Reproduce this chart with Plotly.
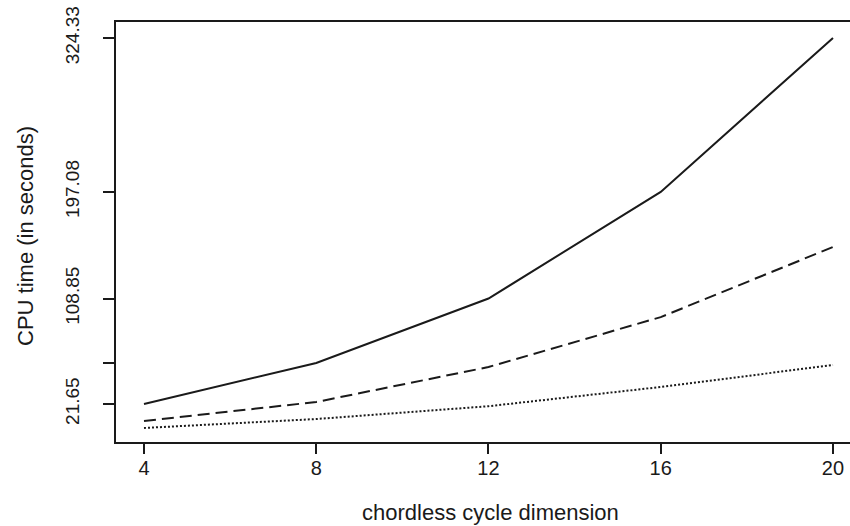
import plotly.graph_objects as go

# Data
dimension = [4, 8, 12, 16, 20]
solid_series = [21.65, 55.6, 108.85, 197.08, 324.33]
dashed_series = [7.6, 23.3, 52.2, 93.5, 151.5]
dotted_series = [1.8, 9.2, 19.8, 35.7, 53.9]

x_ticks = [4, 8, 12, 16, 20]
y_tickvals = [21.65, 55.6, 108.85, 197.08, 324.33]
y_ticktext = ["21.65", "", "108.85", "197.08", "324.33"]

FONT = "Liberation Sans, Arial, Helvetica, sans-serif"
INK = "#1a1a1a"

W, H = 850, 526
L, T, B, R = 116, 22, 526 - 442, 0
PW, PH = W - L - R, H - T - B

fig = go.Figure()
fig.add_trace(go.Scatter(x=dimension, y=solid_series, mode="lines",
                         line=dict(color=INK, width=2, dash="solid"), showlegend=False))
fig.add_trace(go.Scatter(x=dimension, y=dashed_series, mode="lines",
                         line=dict(color=INK, width=2, dash="12px,6px"), showlegend=False))
fig.add_trace(go.Scatter(x=dimension, y=dotted_series, mode="lines",
                         line=dict(color=INK, width=2, dash="2px,2px"), showlegend=False))

fig.update_layout(
    width=W, height=H,
    margin=dict(l=L, r=R, t=T, b=B),
    paper_bgcolor="white", plot_bgcolor="white",
    font=dict(family=FONT, size=20, color=INK),
    xaxis=dict(range=[3.35, 20.395], tickvals=x_ticks, ticktext=[str(v) for v in x_ticks],
               showgrid=False, zeroline=False, showline=True, linecolor=INK, linewidth=2,
               mirror=True, ticks="outside", ticklen=10, tickwidth=2, tickcolor=INK,
               ticklabelstandoff=-3, ticklabeloverflow="allow", tickfont=dict(size=20)),
    yaxis=dict(range=[-9.8, 337.6], tickvals=y_tickvals, ticktext=y_ticktext,
               showgrid=False, zeroline=False, showline=True, linecolor=INK, linewidth=2,
               ticks="outside", ticklen=11, tickwidth=2, tickcolor=INK,
               tickangle=-90, ticklabelstandoff=16, ticklabeloverflow="allow",
               tickfont=dict(size=19)),
    annotations=[
        dict(text="chordless cycle dimension", xref="paper", yref="paper",
             x=(490 - L) / PW, y=-(512 - 442) / PH, xanchor="center", yanchor="middle",
             showarrow=False, font=dict(size=22, family=FONT, color=INK)),
        dict(text="CPU time (in seconds)", xref="paper", yref="paper",
             x=-(L - 25) / PW, y=(442 - 236) / PH, xanchor="center", yanchor="middle",
             textangle=-90, showarrow=False, font=dict(size=22, family=FONT, color=INK)),
    ],
)

fig.write_html(
    "out.html",
    config={"displayModeBar": False},
    post_script="document.body.style.margin='0';document.body.style.overflow='hidden';",
)
